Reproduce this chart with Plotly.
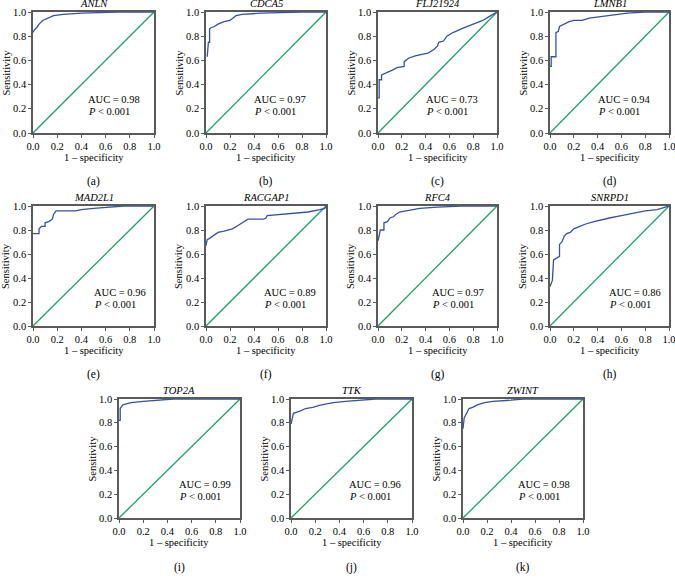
import plotly.graph_objects as go

W, H = 675, 578

genes = ["ANLN", "CDCA5", "FLJ21924", "LMNB1", "MAD2L1", "RACGAP1",
         "RFC4", "SNRPD1", "TOP2A", "TTK", "ZWINT"]
panel_tags = ["(a)", "(b)", "(c)", "(d)", "(e)", "(f)", "(g)", "(h)", "(i)", "(j)", "(k)"]
auc_values = ["0.98", "0.97", "0.73", "0.94", "0.96", "0.89", "0.97", "0.86", "0.99", "0.96", "0.98"]
p_text = "<i>P</i> < 0.001"

fpr_ANLN = [0, 0.01, 0.03, 0.05, 0.08, 0.12, 0.17, 0.25, 0.4, 0.7, 1.0]
tpr_ANLN = [0.83, 0.85, 0.87, 0.90, 0.93, 0.95, 0.97, 0.98, 0.99, 1.0, 1.0]

fpr_CDCA5 = [0.01, 0.01, 0.02, 0.03, 0.03, 0.04, 0.07, 0.10, 0.15, 0.20, 0.25, 0.30, 0.45, 0.8, 1.0]
tpr_CDCA5 = [0.63, 0.63, 0.75, 0.75, 0.86, 0.87, 0.88, 0.90, 0.92, 0.93, 0.97, 0.98, 0.99, 1.0, 1.0]

fpr_FLJ21924 = [0, 0.01, 0.01, 0.03, 0.03, 0.08, 0.12, 0.16, 0.22, 0.22, 0.26, 0.32, 0.42, 0.47,
                0.50, 0.51, 0.55, 0.58, 0.63, 0.70, 0.75, 0.80, 0.88, 0.93, 0.97, 1.0]
tpr_FLJ21924 = [0.29, 0.29, 0.44, 0.44, 0.48, 0.50, 0.52, 0.54, 0.55, 0.59, 0.62, 0.64, 0.66, 0.69,
                0.72, 0.75, 0.76, 0.80, 0.83, 0.86, 0.88, 0.90, 0.93, 0.96, 0.98, 1.0]

fpr_LMNB1 = [0, 0.01, 0.01, 0.05, 0.05, 0.07, 0.08, 0.10, 0.13, 0.16, 0.20, 0.27, 0.33, 0.40,
             0.50, 0.58, 0.65, 0.80, 1.0]
tpr_LMNB1 = [0.55, 0.55, 0.63, 0.63, 0.83, 0.84, 0.88, 0.89, 0.91, 0.92, 0.93, 0.93, 0.95, 0.96,
             0.97, 0.98, 0.99, 1.0, 1.0]

fpr_MAD2L1 = [0, 0.05, 0.05, 0.07, 0.10, 0.10, 0.13, 0.16, 0.17, 0.19, 0.35, 0.40, 0.50, 0.60, 0.75, 1.0]
tpr_MAD2L1 = [0.77, 0.77, 0.81, 0.83, 0.83, 0.86, 0.87, 0.89, 0.93, 0.96, 0.96, 0.97, 0.98, 0.99, 1.0, 1.0]

fpr_RACGAP1 = [0, 0.01, 0.03, 0.06, 0.10, 0.15, 0.22, 0.27, 0.30, 0.35, 0.48, 0.50, 0.51,
               0.65, 0.85, 0.95, 0.99, 1.0]
tpr_RACGAP1 = [0.67, 0.72, 0.73, 0.75, 0.78, 0.79, 0.81, 0.84, 0.86, 0.89, 0.89, 0.90, 0.92,
               0.93, 0.95, 0.97, 0.98, 1.0]

fpr_RFC4 = [0, 0.02, 0.05, 0.05, 0.08, 0.10, 0.13, 0.15, 0.18, 0.25, 0.28, 0.35, 0.50, 0.70, 1.0]
tpr_RFC4 = [0.71, 0.80, 0.80, 0.86, 0.87, 0.90, 0.91, 0.93, 0.95, 0.96, 0.97, 0.98, 0.99, 1.0, 1.0]

fpr_SNRPD1 = [0, 0.02, 0.03, 0.06, 0.08, 0.08, 0.10, 0.12, 0.14, 0.17, 0.20, 0.25, 0.30, 0.37,
              0.45, 0.50, 0.60, 0.70, 0.80, 0.90, 0.97, 1.0]
tpr_SNRPD1 = [0.33, 0.38, 0.55, 0.57, 0.58, 0.68, 0.70, 0.75, 0.77, 0.78, 0.81, 0.83, 0.85, 0.87,
              0.89, 0.90, 0.92, 0.94, 0.96, 0.97, 0.99, 1.0]

fpr_TOP2A = [0, 0.01, 0.01, 0.03, 0.06, 0.10, 0.20, 0.35, 0.45, 1.0]
tpr_TOP2A = [0.82, 0.82, 0.92, 0.95, 0.96, 0.97, 0.98, 0.99, 1.0, 1.0]

fpr_TTK = [0, 0.01, 0.02, 0.05, 0.08, 0.12, 0.18, 0.25, 0.35, 0.45, 0.55, 0.70, 1.0]
tpr_TTK = [0.79, 0.85, 0.88, 0.89, 0.90, 0.92, 0.93, 0.95, 0.97, 0.98, 0.99, 1.0, 1.0]

fpr_ZWINT = [0, 0.01, 0.03, 0.05, 0.08, 0.12, 0.18, 0.25, 0.40, 0.50, 1.0]
tpr_ZWINT = [0.75, 0.84, 0.88, 0.92, 0.93, 0.95, 0.97, 0.98, 0.99, 1.0, 1.0]

fprs = [fpr_ANLN, fpr_CDCA5, fpr_FLJ21924, fpr_LMNB1, fpr_MAD2L1, fpr_RACGAP1,
        fpr_RFC4, fpr_SNRPD1, fpr_TOP2A, fpr_TTK, fpr_ZWINT]
tprs = [tpr_ANLN, tpr_CDCA5, tpr_FLJ21924, tpr_LMNB1, tpr_MAD2L1, tpr_RACGAP1,
        tpr_RFC4, tpr_SNRPD1, tpr_TOP2A, tpr_TTK, tpr_ZWINT]

tick_vals = [0, 0.2, 0.4, 0.6, 0.8, 1.0]
tick_text = ["0.0", "0.2", "0.4", "0.6", "0.8", "1.0"]

# layout (pixel boxes: left, right, top, bottom)
boxes = [
    (33, 154, 12, 133), (206, 326, 12, 133), (378, 497, 12, 133), (550, 669, 12, 133),
    (33, 154, 206, 326), (206, 326, 206, 326), (378, 497, 206, 326), (550, 669, 206, 326),
    (119, 240, 399, 518), (291, 412, 399, 518), (463, 583, 399, 518),
]
auc_x = [0.44, 0.38, 0.39, 0.39, 0.49, 0.47, 0.44, 0.48, 0.48, 0.46, 0.44]

FONT = "Liberation Serif"
CURVE = "#3552A0"
DIAG = "#1FA267"
FRAME = "#5a5a5a"

fig = go.Figure()
annotations = []
layout_axes = {}

for i, g in enumerate(genes):
    n = "" if i == 0 else str(i + 1)
    xa, ya = "x" + n, "y" + n
    l, r, t, b = boxes[i]
    common = dict(
        range=[0, 1], tickvals=tick_vals, ticktext=tick_text, ticks="outside", ticklen=3,
        tickcolor=FRAME, showline=True, linecolor=FRAME, linewidth=1.5, mirror=True,
        showgrid=False, zeroline=False, automargin=False, fixedrange=True,
        ticklabeloverflow="allow",
        tickfont=dict(family=FONT, size=10.5, color="black"),
    )
    layout_axes["xaxis" + n] = dict(domain=[l / W, r / W], anchor=ya, **common)
    layout_axes["yaxis" + n] = dict(domain=[1 - b / H, 1 - t / H], anchor=xa, **common)
    fig.add_trace(go.Scatter(x=[0, 1], y=[0, 1], mode="lines", xaxis=xa, yaxis=ya,
                             line=dict(color=DIAG, width=1.3), showlegend=False, hoverinfo="skip"))
    fig.add_trace(go.Scatter(x=fprs[i], y=tprs[i], mode="lines", xaxis=xa, yaxis=ya,
                             line=dict(color=CURVE, width=1.3), showlegend=False))
    cx = (l + r) / 2 / W
    cy = 1 - (t + b) / 2 / H
    # title
    annotations.append(dict(text="<i>%s</i>" % g, x=cx, y=1 - (t - 1) / H, xref="paper", yref="paper",
                            xanchor="center", yanchor="bottom", showarrow=False,
                            font=dict(family=FONT, size=10.5, color="black")))
    # y axis title
    annotations.append(dict(text="Sensitivity", x=(l - 27) / W, y=cy, xref="paper", yref="paper",
                            xanchor="center", yanchor="middle", textangle=-90, showarrow=False,
                            font=dict(family=FONT, size=10.5, color="black")))
    # x axis title
    annotations.append(dict(text="1 \u2013 specificity", x=cx, y=1 - (b + 24) / H, xref="paper", yref="paper",
                            xanchor="center", yanchor="middle", showarrow=False,
                            font=dict(family=FONT, size=10.5, color="black")))
    # panel tag
    annotations.append(dict(text=panel_tags[i], x=cx, y=1 - (b + 49) / H, xref="paper", yref="paper",
                            xanchor="center", yanchor="middle", showarrow=False,
                            font=dict(family=FONT, size=11.5, color="black")))
    # AUC text
    annotations.append(dict(text="AUC = " + auc_values[i], x=auc_x[i], y=0.28, xref=xa, yref=ya,
                            xanchor="left", yanchor="middle", showarrow=False,
                            font=dict(family=FONT, size=10.5, color="black")))
    annotations.append(dict(text=p_text, x=auc_x[i], y=0.18, xref=xa, yref=ya,
                            xanchor="left", yanchor="middle", showarrow=False,
                            font=dict(family=FONT, size=10.5, color="black")))

fig.update_layout(
    width=W, height=H, margin=dict(l=0, r=0, t=0, b=0, autoexpand=False),
    paper_bgcolor="white", plot_bgcolor="white",
    annotations=annotations, **layout_axes,
)

fig.write_html(
    "out.html",
    config={"displayModeBar": False},
    post_script="document.body.style.margin='0px';document.body.style.padding='0px';"
                "document.body.style.overflow='hidden';",
)
